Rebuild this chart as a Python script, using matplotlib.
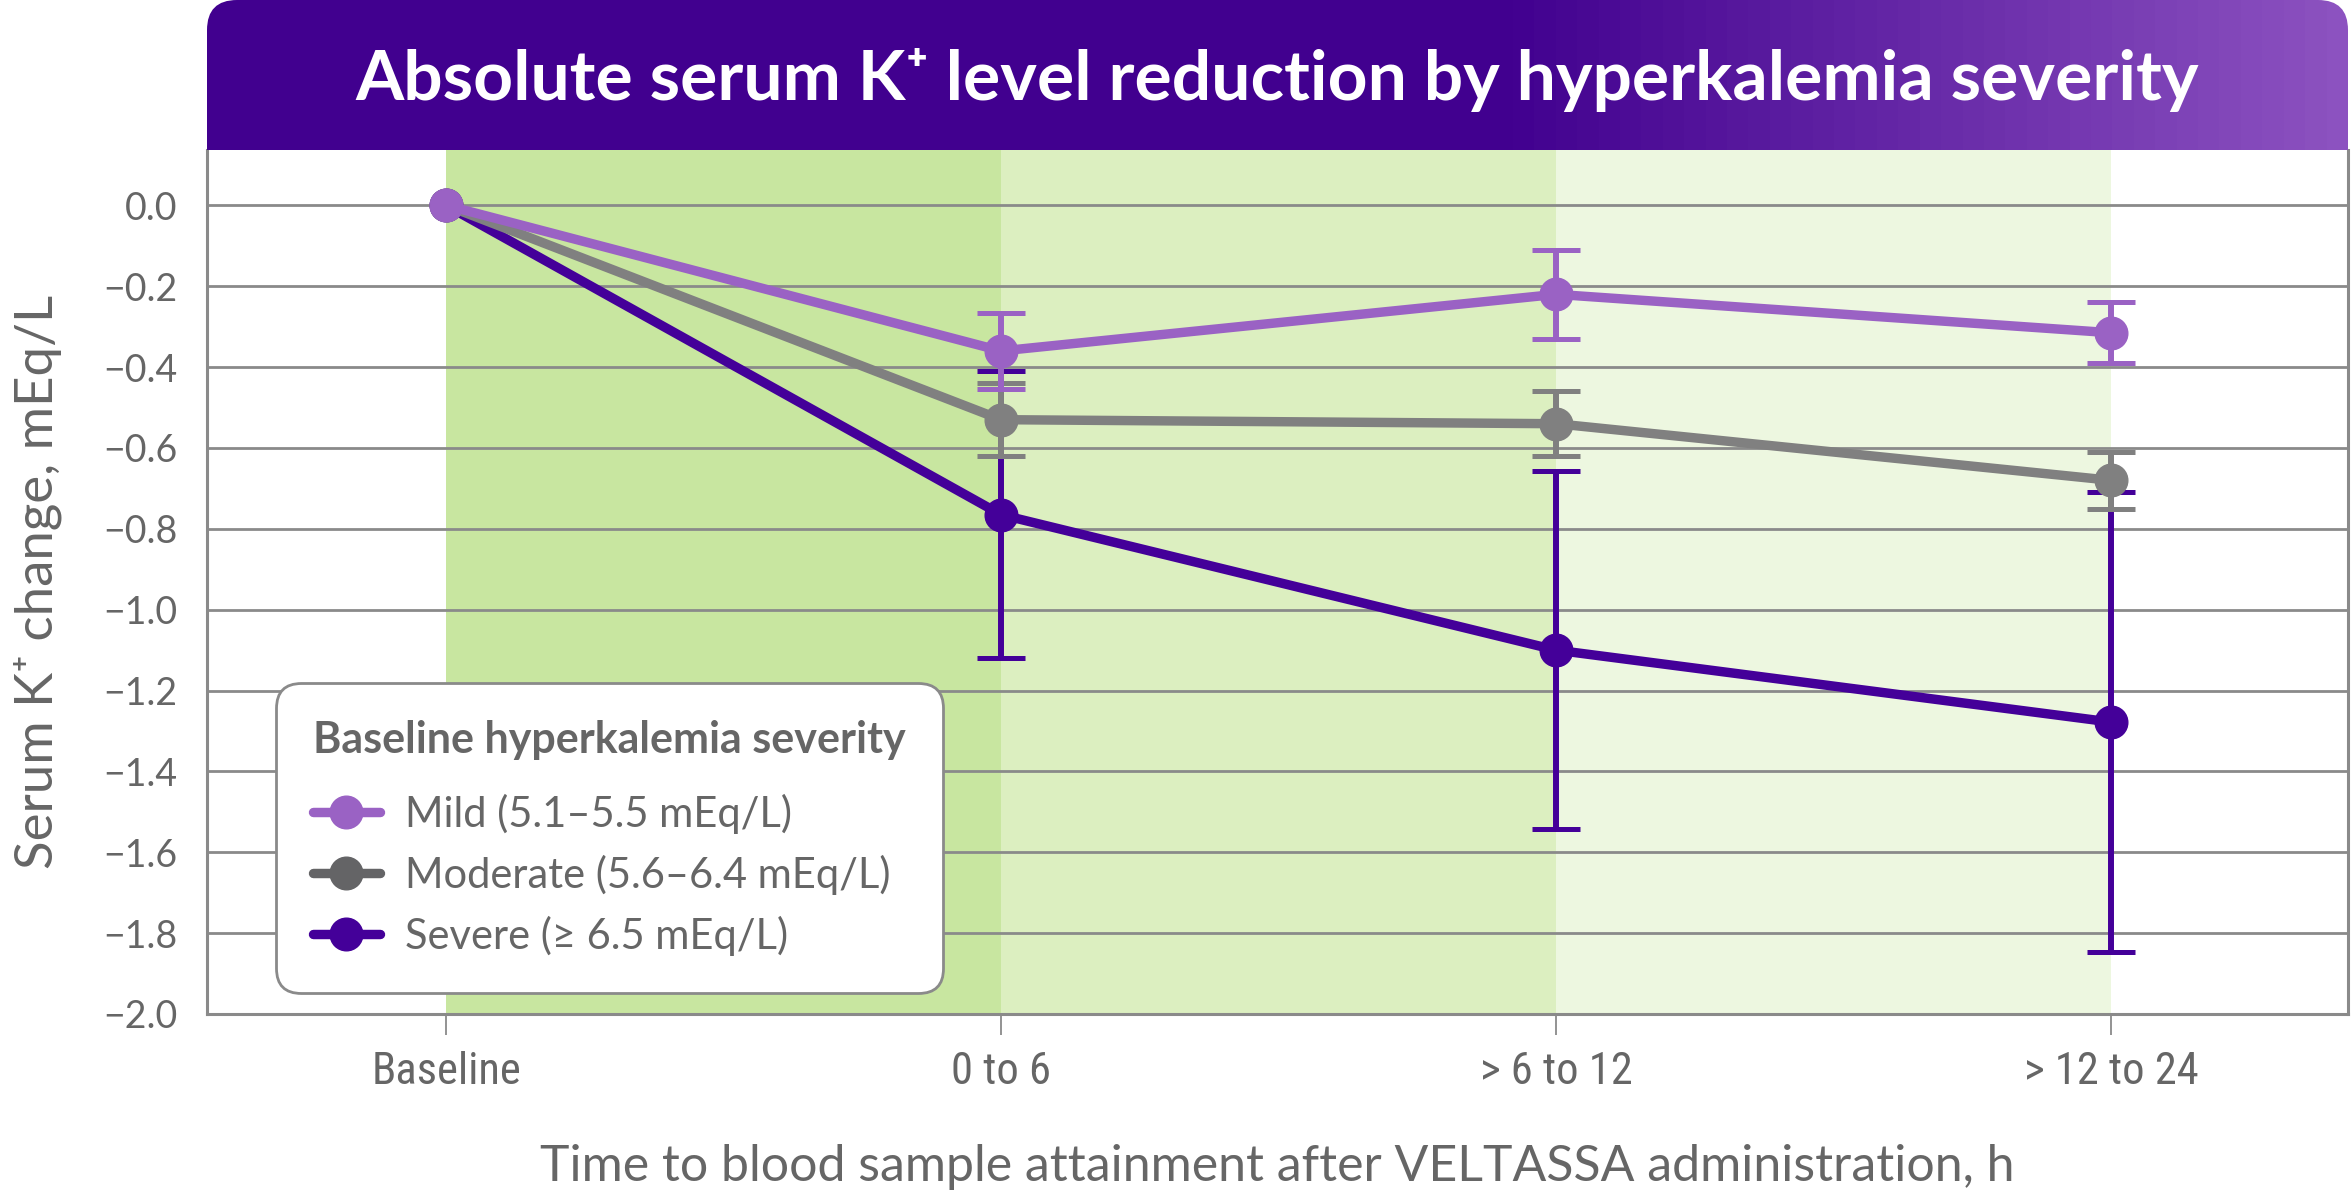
import numpy as np
import matplotlib.pyplot as plt
from matplotlib.patches import FancyBboxPatch
from matplotlib.colors import LinearSegmentedColormap

plt.rcParams['font.family'] = ['Lato', 'DejaVu Sans']

# Data
timepoints = ["Baseline", "0 to 6", "> 6 to 12", "> 12 to 24"]
labels = ["Mild (5.1–5.5 mEq/L)", "Moderate (5.6–6.4 mEq/L)", "Severe (≥ 6.5 mEq/L)"]
mild = [0.0, -0.36, -0.22, -0.315]
mild_err = [0.0, 0.093, 0.11, 0.075]
moderate = [0.0, -0.53, -0.54, -0.68]
moderate_err = [0.0, 0.09, 0.08, 0.07]
severe = [0.0, -0.765, -1.10, -1.278]
severe_err = [0.0, 0.355, 0.443, 0.568]
y_ticks = [0.0, -0.2, -0.4, -0.6, -0.8, -1.0, -1.2, -1.4, -1.6, -1.8, -2.0]

colors = ['#9a62c4', '#808080', '#440099']
band_colors = ['#c8e6a0', '#dcefc0', '#edf7e0']
text_gray = '#666666'
grid_gray = '#8a8a8a'

W, H = 2351, 1194
fig = plt.figure(figsize=(W / 100, H / 100), dpi=100)

# plot area in pixel coords
left, right, top, bottom = 207, 2348, 150, 1014
ax = fig.add_axes([left / W, 1 - bottom / H, (right - left) / W, (bottom - top) / H])

x = np.arange(len(timepoints))

# green shaded intervals
for i in range(len(timepoints) - 1):
    ax.axvspan(x[i], x[i + 1], color=band_colors[i], zorder=0, lw=0)

ax.yaxis.grid(True, color=grid_gray, lw=2)
ax.set_axisbelow(False)
for gl in ax.get_ygridlines():
    gl.set_zorder(1)

series = [(mild, mild_err), (moderate, moderate_err), (severe, severe_err)]
zs = [5, 4, 3]
for (vals, err), c, lab, z in zip(series, colors, labels, zs):
    ax.errorbar(x[1:], vals[1:], yerr=err[1:], fmt='none', ecolor=c,
                elinewidth=4.3, capsize=17, capthick=3.6, zorder=z)
    ax.plot(x, vals, color=c, lw=6.8, marker='o', markersize=23.5,
            label=lab, zorder=z + 0.5, solid_capstyle='round')

ax.set_xlim(-0.431, 3.427)
ax.set_ylim(-2.0, 0.137)
ax.set_yticks(y_ticks)
ax.set_yticklabels([f"{v:.1f}".replace('-', '\u2212') for v in y_ticks])
ax.set_xticks(x)
ax.set_xticklabels(timepoints, family=['Liberation Sans Narrow', 'Roboto Condensed', 'Lato'])

ax.tick_params(axis='y', length=0, pad=21, labelsize=27, labelcolor=text_gray)
ax.tick_params(axis='x', length=15, width=1.3, color=grid_gray, pad=12,
               labelsize=32, labelcolor=text_gray)

for s in ['left', 'right', 'bottom']:
    ax.spines[s].set_color(grid_gray)
    ax.spines[s].set_linewidth(2.2)
ax.spines['top'].set_visible(False)

ax.set_ylabel("Serum K\u207a change, mEq/L", fontsize=38, color=text_gray, labelpad=30)
ax.set_xlabel("Time to blood sample attainment after VELTASSA administration, h",
              fontsize=36, color=text_gray, labelpad=36)

leg = ax.legend(loc='lower left', bbox_to_anchor=(0.032, 0.024),
                title="Baseline hyperkalemia severity", fontsize=30,
                title_fontproperties={'size': 31, 'weight': 'bold'},
                alignment='left', frameon=True, fancybox=True,
                handlelength=1.6, handletextpad=0.6, labelspacing=0.5,
                borderpad=0.9, borderaxespad=0)
leg.get_title().set_color(text_gray)
leg._legend_box.sep = 24
for t in leg.get_texts():
    t.set_color(text_gray)
leg.legend_handles[1].set_color('#646466')
fr = leg.get_frame()
fr.set_edgecolor(grid_gray)
fr.set_linewidth(2.0)
fr.set_facecolor('white')
fr.set_alpha(1)
fr.set_boxstyle('round', pad=0, rounding_size=0.6)
leg.set_zorder(10)

# title bar with gradient and rounded top corners
tax = fig.add_axes([left / W, 1 - top / H, (right - left) / W, top / H])
tax.set_axis_off()
tax.set_xlim(0, 1)
tax.set_ylim(0, 1)
grad = np.concatenate([np.zeros(60), np.linspace(0, 1, 40)])
cmap = LinearSegmentedColormap.from_list('bar', ['#41008f', '#8c52c0'])
im = tax.imshow(grad[None, :], aspect='auto', cmap=cmap, extent=[0, 1, 0, 1])
rx = 30 / (right - left)
ry = 30 / top
clip = FancyBboxPatch((0, -1), 1, 2, boxstyle=f'round,pad=0,rounding_size={rx}',
                      mutation_aspect=ry / rx, transform=tax.transAxes)
im.set_clip_path(clip)
tax.text(0.5, 0.47, "Absolute serum K\u207a level reduction by hyperkalemia severity",
         color='white', fontsize=50, fontweight='bold', ha='center', va='center',
         transform=tax.transAxes)

fig.savefig('out.png', dpi=100)
